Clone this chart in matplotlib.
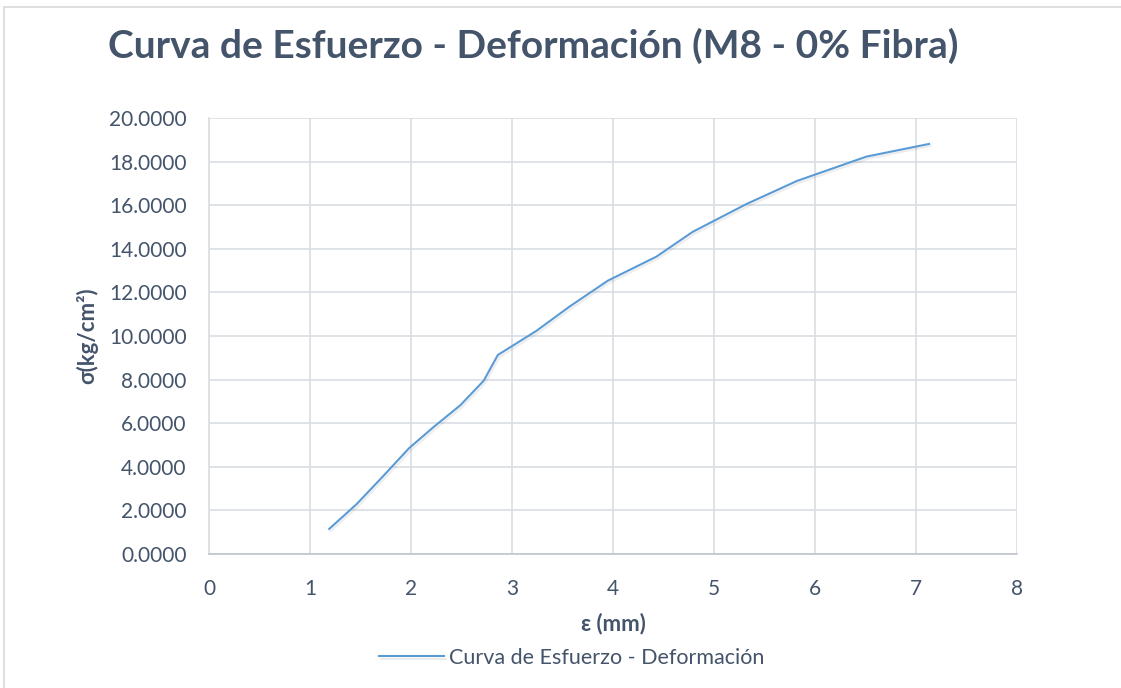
import matplotlib
matplotlib.use("Agg")
import matplotlib.pyplot as plt
import matplotlib.patheffects as pe
from matplotlib.patches import Rectangle

# strain (mm) and stress (kg/cm2)
strain = [1.19, 1.46, 1.72, 1.98, 2.22, 2.49, 2.72, 2.86, 3.24, 3.57,
          3.95, 4.43, 4.79, 5.32, 5.82, 6.51, 7.13]
stress = [1.15, 2.28, 3.55, 4.85, 5.81, 6.83, 7.95, 9.13, 10.23, 11.35,
          12.54, 13.64, 14.78, 16.05, 17.11, 18.23, 18.81]

x_ticks = list(range(0, 9))
y_ticks = [0, 2, 4, 6, 8, 10, 12, 14, 16, 18, 20]

TITLE = "Curva de Esfuerzo - Deformación (M8 - 0% Fibra)"
SERIES = "Curva de Esfuerzo - Deformación"

TEXT = "#44546A"
LINE = "#5B9BD5"
GRID = "#D9DDE3"

plt.rcParams["font.family"] = ["Lato", "DejaVu Sans"]

W, H = 1121, 688
fig = plt.figure(figsize=(W / 100, H / 100), dpi=100)
fig.patch.set_facecolor("white")
fig.patches.append(Rectangle((4 / W, -0.1), 1.2, (H - 7) / H + 0.1,
                             transform=fig.transFigure, fill=False,
                             edgecolor="#D9D9D9", linewidth=1.2))

ax = fig.add_axes([209 / W, 1 - 554 / H, (1017 - 209) / W, (554 - 118) / H])

ax.plot(strain, stress, color=LINE, linewidth=1.5, label=SERIES,
        path_effects=[pe.SimpleLineShadow(offset=(1.2, -1.5), alpha=0.07, shadow_color="black"),
                      pe.Normal()])

ax.set_xlim(0, 8)
ax.set_ylim(0, 20)
ax.set_xticks(x_ticks)
ax.set_yticks(y_ticks)
ax.set_xticklabels([str(v) for v in x_ticks])
ax.set_yticklabels([f"{v:.4f}" for v in y_ticks])
ax.tick_params(length=0, labelsize=15, labelcolor=TEXT)
ax.tick_params(axis="y", pad=16)
ax.tick_params(axis="x", pad=18)

ax.grid(True, color=GRID, linewidth=1.2)
ax.set_axisbelow(True)
for s in ["top", "right"]:
    ax.spines[s].set_visible(False)
ax.spines["left"].set_color(GRID)
ax.spines["left"].set_linewidth(1.2)
ax.spines["bottom"].set_color("#BFC5CE")
ax.spines["bottom"].set_linewidth(1.2)

ax.set_xlabel("ε (mm)", fontsize=16, fontweight="bold", color=TEXT, labelpad=10)
ax.set_ylabel("σ(kg/cm²)", fontsize=16, fontweight="bold", color=TEXT)
ax.yaxis.set_label_coords(-(209 - 98) / (1017 - 209), 0.5)

fig.text(108 / W, 1 - 46 / H, TITLE, fontsize=28, fontweight="bold", color=TEXT,
         ha="left", va="center")

leg = fig.legend(loc="center", bbox_to_anchor=(572 / W, 1 - 658 / H), frameon=False,
                 fontsize=15.5, handlelength=3.0, handletextpad=0.25)
for t in leg.get_texts():
    t.set_color(TEXT)

fig.savefig("out.png", dpi=100)
